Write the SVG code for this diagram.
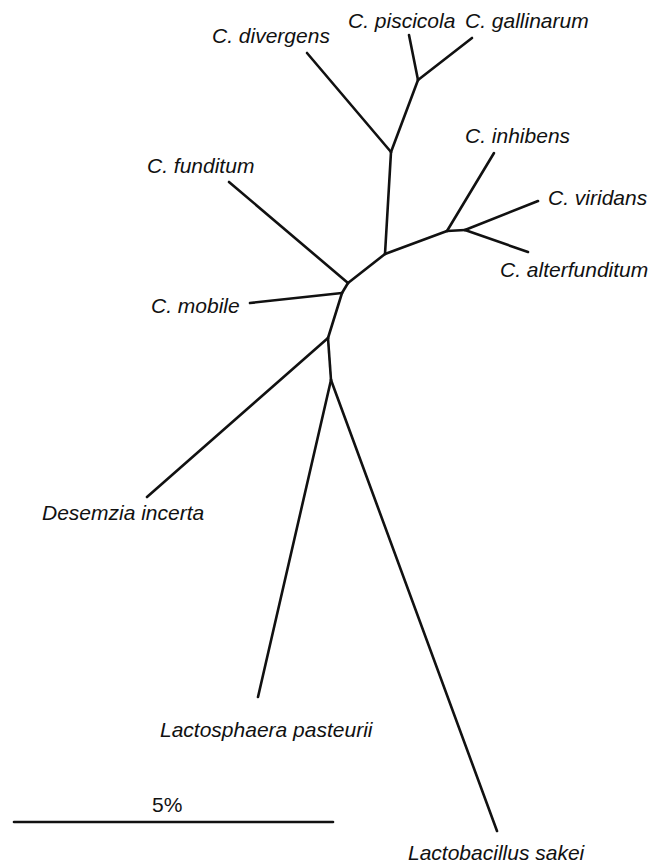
<svg xmlns="http://www.w3.org/2000/svg" width="651" height="866" viewBox="0 0 651 866">
<style>
.lbl{font-family:"Liberation Sans",Arial,sans-serif;font-style:italic;font-size:21px;fill:#111111}
.num{font-family:"Liberation Sans",Arial,sans-serif;font-size:21px;fill:#111111}
.br{stroke:#111111;stroke-width:2.6;fill:none;stroke-linecap:round;stroke-linejoin:round}
</style>
<rect width="651" height="866" fill="#ffffff"/>
<g id="connectors" class="br">
<line x1="391" y1="152" x2="307" y2="53"/>
<line x1="391" y1="152" x2="418" y2="80"/>
<line x1="418" y1="80" x2="409" y2="35"/>
<line x1="418" y1="80" x2="472" y2="38"/>
<line x1="391" y1="152" x2="385" y2="254"/>
<line x1="385" y1="254" x2="447" y2="231"/>
<line x1="447" y1="231" x2="494" y2="153"/>
<line x1="447" y1="231" x2="465" y2="230"/>
<line x1="465" y1="230" x2="538" y2="201"/>
<line x1="465" y1="230" x2="528" y2="252"/>
<line x1="385" y1="254" x2="348" y2="283"/>
<line x1="348" y1="283" x2="229" y2="182"/>
<line x1="348" y1="283" x2="342" y2="293"/>
<line x1="342" y1="293" x2="250" y2="303"/>
<line x1="342" y1="293" x2="328" y2="338"/>
<line x1="328" y1="338" x2="147" y2="497"/>
<line x1="328" y1="338" x2="331" y2="380"/>
<line x1="331" y1="380" x2="258" y2="697"/>
<line x1="331" y1="380" x2="497" y2="831"/>
</g>
<g id="n-divergens"><text class="lbl" x="212" y="43">C. divergens</text></g>
<g id="n-piscicola"><text class="lbl" x="348" y="28">C. piscicola</text></g>
<g id="n-gallinarum"><text class="lbl" x="465" y="28">C. gallinarum</text></g>
<g id="n-inhibens"><text class="lbl" x="465" y="143">C. inhibens</text></g>
<g id="n-funditum"><text class="lbl" x="147" y="173">C. funditum</text></g>
<g id="n-viridans"><text class="lbl" x="548" y="205">C. viridans</text></g>
<g id="n-alterfunditum"><text class="lbl" x="500" y="277">C. alterfunditum</text></g>
<g id="n-mobile"><text class="lbl" x="151" y="313">C. mobile</text></g>
<g id="n-desemzia"><text class="lbl" x="42" y="520">Desemzia incerta</text></g>
<g id="n-lactosphaera"><text class="lbl" x="160" y="737">Lactosphaera pasteurii</text></g>
<g id="n-lactobacillus"><text class="lbl" x="408" y="860">Lactobacillus sakei</text></g>
<g id="scale">
<line class="br" x1="14" y1="822" x2="333" y2="822"/>
<text class="num" x="152" y="812">5%</text>
</g>
</svg>
